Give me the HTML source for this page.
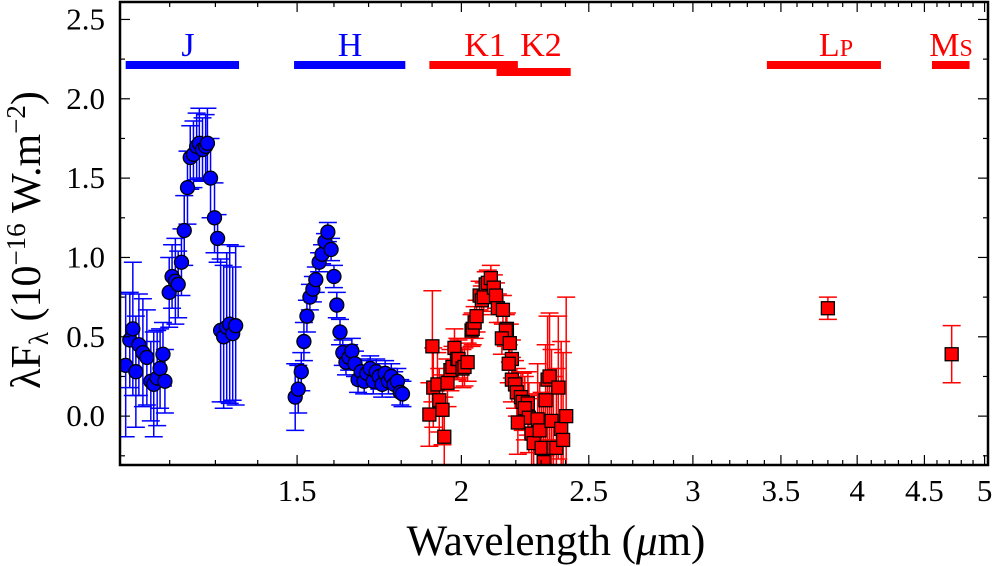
<!DOCTYPE html>
<html><head><meta charset="utf-8"><style>
html,body{margin:0;padding:0;background:#fff;}
svg{display:block;font-family:"Liberation Serif","DejaVu Serif",serif;}
</style></head><body>
<svg id="chart" width="1000" height="566" viewBox="0 0 1000 566"></svg>
<script>
const jWave=[1.111,1.119,1.125,1.131,1.137,1.145,1.153,1.161,1.167,1.174,1.180,1.186,1.190,1.199,1.205,1.212,1.218,1.225,1.231,1.238,1.244,1.251,1.258,1.264,1.271,1.278,1.282,1.289,1.298,1.305,1.312,1.319,1.326,1.333,1.340,1.347];
const jFlux=[0.32,0.48,0.55,0.28,0.45,0.40,0.37,0.22,0.20,0.24,0.30,0.39,0.22,0.78,0.88,0.85,0.83,0.97,1.17,1.44,1.63,1.65,1.70,1.72,1.68,1.70,1.72,1.50,1.25,1.12,0.54,0.50,0.56,0.58,0.52,0.57];
const jErr=[0.45,0.30,0.42,0.35,0.32,0.34,0.30,0.25,0.33,0.30,0.25,0.20,0.20,0.22,0.20,0.27,0.21,0.21,0.22,0.23,0.20,0.21,0.21,0.22,0.20,0.20,0.22,0.25,0.22,0.15,0.45,0.45,0.47,0.50,0.42,0.50];
const hWave=[1.495,1.503,1.511,1.518,1.526,1.534,1.542,1.550,1.559,1.567,1.575,1.583,1.592,1.600,1.608,1.617,1.625,1.634,1.643,1.651,1.660,1.669,1.678,1.687,1.695,1.705,1.714,1.723,1.732,1.741,1.750,1.760,1.769,1.778,1.788,1.797,1.804];
const hFlux=[0.12,0.17,0.28,0.47,0.63,0.75,0.80,0.86,0.97,1.02,1.10,1.16,1.05,0.88,0.70,0.53,0.40,0.34,0.37,0.41,0.33,0.23,0.28,0.22,0.27,0.30,0.22,0.28,0.25,0.20,0.27,0.22,0.25,0.20,0.22,0.15,0.14];
const hErr=[0.21,0.15,0.12,0.12,0.10,0.08,0.08,0.08,0.06,0.06,0.05,0.06,0.07,0.07,0.08,0.08,0.08,0.08,0.08,0.08,0.08,0.08,0.08,0.08,0.08,0.08,0.08,0.08,0.08,0.08,0.08,0.08,0.08,0.08,0.08,0.08,0.08];
const kWave=[1.891,1.901,1.904,1.918,1.924,1.935,1.941,1.952,1.962,1.969,1.976,1.986,1.990,2.004,2.011,2.022,2.036,2.040,2.047,2.054,2.065,2.073,2.080,2.087,2.095,2.106,2.117,2.125,2.132,2.151,2.166,2.162,2.147,2.177,2.185,2.173,2.185,2.197,2.204,2.220,2.227,2.247,2.235,2.251,2.208,2.262,2.270,2.286,2.294,2.302,2.310,2.318,2.326,2.334,2.342,2.350,2.362,2.370,2.382,2.390,2.403];
const kFlux=[0.01,0.44,0.18,0.20,0.10,0.04,-0.13,0.21,0.29,0.31,0.43,0.36,0.36,0.30,0.31,0.34,0.54,0.55,0.59,0.63,0.76,0.73,0.75,0.83,0.84,0.87,0.81,0.76,0.68,0.67,0.55,0.54,0.49,0.46,0.36,0.33,0.23,0.20,0.15,0.12,0.09,0.08,0.05,-0.01,-0.04,-0.11,-0.17,-0.02,-0.09,-0.20,-0.29,0.10,0.23,0.25,-0.03,-0.20,-0.20,0.18,-0.08,-0.15,0.00];
const kErr=[0.20,0.35,0.25,0.20,0.20,0.22,0.25,0.15,0.13,0.13,0.12,0.13,0.12,0.12,0.12,0.12,0.10,0.10,0.10,0.10,0.09,0.09,0.09,0.08,0.08,0.08,0.08,0.08,0.09,0.09,0.10,0.10,0.10,0.12,0.12,0.12,0.14,0.15,0.15,0.16,0.18,0.20,0.20,0.22,0.20,0.25,0.30,0.35,0.30,0.35,0.40,0.35,0.40,0.40,0.45,0.45,0.50,0.45,0.55,0.55,0.75];
const lWave=[3.80], lFlux=[0.68], lErr=[0.07];
const mWave=[4.72], mFlux=[0.39], mErr=[0.18];
const filterNames=["J","H","K1","K2","LP","MS"];
const filterLo=[1.111,1.492,1.891,2.127,3.415,4.56];
const filterHi=[1.355,1.813,2.208,2.422,4.17,4.87];
const filterColor=["#0000ff","#0000ff","#ff0000","#ff0000","#ff0000","#ff0000"];
const xMajor=[1.5,2,2.5,3,3.5,4,4.5,5];
const yMajor=[0.0,0.5,1.0,1.5,2.0,2.5];
const yMajorLabels=["0.0","0.5","1.0","1.5","2.0","2.5"];

const L=120,R=988,T=2,B=465;
const xmin=1.1,xmax=5.03,ymin=-0.308,ymax=2.61;
const X=v=>L+(Math.log(v)-Math.log(xmin))/(Math.log(xmax)-Math.log(xmin))*(R-L);
const Y=v=>B-(v-ymin)/(ymax-ymin)*(B-T);
const svg=document.getElementById('chart');
const NS='http://www.w3.org/2000/svg';
function mk(tag,attrs,parent){const e=document.createElementNS(NS,tag);for(const k in attrs)e.setAttribute(k,attrs[k]);(parent||svg).appendChild(e);return e;}

const defs=mk('defs',{});
const cp=mk('clipPath',{id:'clip'},defs);
mk('rect',{x:L,y:T,width:R-L,height:B-T},cp);
const plot=mk('g',{'clip-path':'url(#clip)'});



filterNames.forEach((n,i)=>{
  const y=n==="K2"?72:65;
  const r=mk('rect',{x:X(filterLo[i]),y:y-4,width:X(filterHi[i])-X(filterLo[i]),height:8,fill:filterColor[i]});
  
  
});
const labelPos=[[188,"J"],[350,"H"],[485,"K1"],[541,"K2"]];
labelPos.forEach(([x,t],i)=>{
  const e=mk('text',{x:x,y:56,'font-size':34,fill:filterColor[i],'text-anchor':'middle'});e.textContent=t;
  
  
});
let e=mk('text',{x:836,y:56,'font-size':34,fill:'#ff0000','text-anchor':'middle'});
e.innerHTML='L<tspan font-size="24">P</tspan>';


e=mk('text',{x:951,y:56,'font-size':34,fill:'#ff0000','text-anchor':'middle'});
e.innerHTML='M<tspan font-size="24">S</tspan>';



function series(w,f,err,color,shape,name){
  const g=mk('g',{},plot);
  
  
  w.forEach((wv,i)=>{
    const x=X(wv),y1=Y(f[i]-err[i]),y2=Y(f[i]+err[i]);
    mk('line',{x1:x,x2:x,y1:y1,y2:y2,stroke:color,'stroke-width':1.5},g);
    mk('line',{x1:x-9,x2:x+9,y1:y1,y2:y1,stroke:color,'stroke-width':1.5},g);
    mk('line',{x1:x-9,x2:x+9,y1:y2,y2:y2,stroke:color,'stroke-width':1.5},g);
  });
  w.forEach((wv,i)=>{
    const x=X(wv),y=Y(f[i]);
    let m;
    if(shape==='circle') m=mk('circle',{cx:x,cy:y,r:7,fill:color,stroke:'#000','stroke-width':1.3},g);
    else m=mk('rect',{x:x-6.5,y:y-6.5,width:13,height:13,fill:color,stroke:'#000','stroke-width':1.3},g);
    
    
  });
}
series(jWave,jFlux,jErr,'#0000ff','circle','j-band-series');
series(hWave,hFlux,hErr,'#0000ff','circle','h-band-series');
series(kWave,kFlux,kErr,'#ff0000','square','k-band-series');
series(lWave,lFlux,lErr,'#ff0000','square','lp-band-series');
series(mWave,mFlux,mErr,'#ff0000','square','ms-band-series');

const fr=mk('rect',{x:L,y:T,width:R-L,height:B-T,fill:'none',stroke:'#000','stroke-width':2.5});


const ticks=mk('g',{stroke:'#000','stroke-width':1.2});


for(let k=11;k<=50;k++){
  const v=k/10,x=X(v),maj=(k%5===0&&k>=15);
  const len=maj?10:5;
  mk('line',{x1:x,x2:x,y1:B,y2:B-len},ticks);
  mk('line',{x1:x,x2:x,y1:T,y2:T+len},ticks);
}
for(let k=-1;k<=10;k++){
  const v=k*0.25,y=Y(v),maj=(k%2===0);
  const len=maj?10:5;
  mk('line',{x1:L,x2:L+len,y1:y,y2:y},ticks);
  mk('line',{x1:R,x2:R-len,y1:y,y2:y},ticks);
}
xMajor.forEach(v=>{
  const t=mk('text',{x:X(v),y:501,'font-size':31,'text-anchor':'middle'});t.textContent=String(v);
  
  
});
yMajor.forEach((v,i)=>{
  const t=mk('text',{x:105,y:Y(v)+10,'font-size':31,'text-anchor':'end'});t.textContent=yMajorLabels[i];
  
  
});
e=mk('text',{x:556,y:555,'font-size':43,'text-anchor':'middle'});
e.innerHTML='Wavelength (<tspan font-style="italic">μ</tspan>m)';


e=mk('text',{x:0,y:0,'font-size':42,'text-anchor':'middle',transform:'translate(40,240) rotate(-90)'});
e.innerHTML='λF<tspan font-size="27" dy="8">λ</tspan><tspan dy="-8"> (10</tspan><tspan font-size="27" dy="-15">−16</tspan><tspan dy="15"> W.m</tspan><tspan font-size="27" dy="-15">−2</tspan><tspan dy="15">)</tspan>';


</script>
</body></html>
